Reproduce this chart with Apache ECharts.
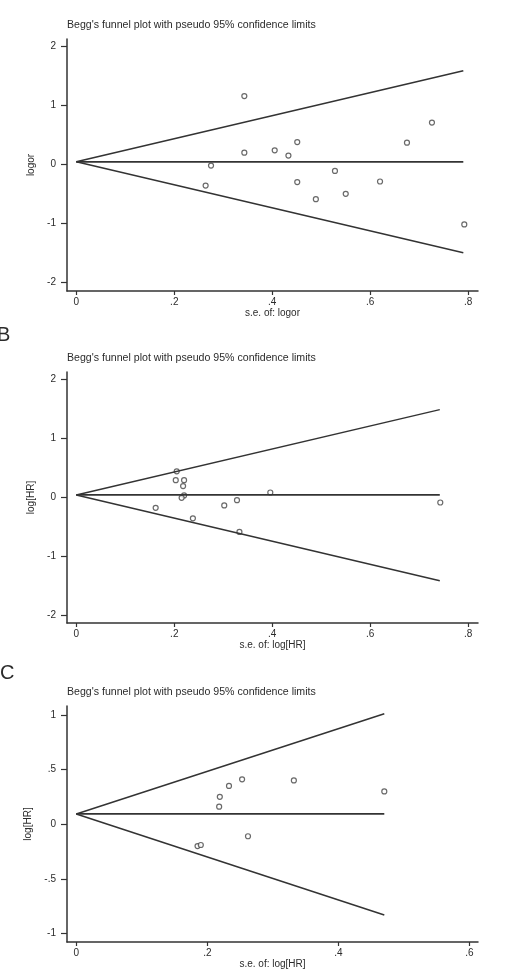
<!DOCTYPE html>
<html>
<head>
<meta charset="utf-8">
<script src="https://cdn.jsdelivr.net/npm/echarts@6/dist/echarts.min.js"></script>
<style>
html,body{margin:0;padding:0;background:#fff;}
#chart{width:505px;height:971px;}
</style>
</head>
<body>
<div id="chart"></div>
<script>
// ---- Panel A: logor vs s.e. of logor ----
const seA = [0.264, 0.275, 0.343, 0.343, 0.405, 0.433, 0.451, 0.451, 0.489, 0.528, 0.550, 0.620, 0.675, 0.726, 0.792];
const effA = [-0.36, -0.02, 1.16, 0.20, 0.24, 0.15, 0.38, -0.30, -0.59, -0.11, -0.50, -0.29, 0.37, 0.71, -1.02];
const funnelSeA = [0, 0.79];
const centerA = [0.044, 0.044];
const upperA = [0.044, 1.59];
const lowerA = [0.044, -1.50];
const xTicksA = [0, 0.2, 0.4, 0.6, 0.8];
const yTicksA = [-2, -1, 0, 1, 2];

// ---- Panel B: log[HR] vs s.e. of log[HR] ----
const seB = [0.162, 0.203, 0.205, 0.220, 0.218, 0.220, 0.215, 0.238, 0.302, 0.328, 0.333, 0.396, 0.743];
const effB = [-0.18, 0.29, 0.44, 0.29, 0.19, 0.03, -0.01, -0.36, -0.14, -0.05, -0.59, 0.08, -0.09];
const funnelSeB = [0, 0.742];
const centerB = [0.039, 0.039];
const upperB = [0.039, 1.49];
const lowerB = [0.039, -1.42];
const xTicksB = [0, 0.2, 0.4, 0.6, 0.8];
const yTicksB = [-2, -1, 0, 1, 2];

// ---- Panel C: log[HR] vs s.e. of log[HR] ----
const seC = [0.185, 0.190, 0.218, 0.219, 0.233, 0.253, 0.262, 0.332, 0.470];
const effC = [-0.20, -0.19, 0.16, 0.25, 0.35, 0.41, -0.11, 0.40, 0.30];
const funnelSeC = [0, 0.47];
const centerC = [0.094, 0.094];
const upperC = [0.094, 1.01];
const lowerC = [0.094, -0.83];
const xTicksC = [0, 0.2, 0.4, 0.6];
const yTicksC = [-1, -0.5, 0, 0.5, 1];

const titleText = "Begg's funnel plot with pseudo 95% confidence limits";
const panelLetters = ['B', 'C'];

const FONT = 'Liberation Sans, Arial, sans-serif';
const TXT = '#2b2b2b';
const LINE = '#333';

function fmt(v){
  let s = String(+(+v).toFixed(3));
  return s.replace(/^(-?)0\./, '$1.');
}

function pairs(xs, ys){ return xs.map((x,i)=>[x, ys[i]]); }

const grids = [
  {left: 67, top: 39, width: 411, height: 252},
  {left: 67, top: 372, width: 411, height: 251},
  {left: 67, top: 706, width: 411, height: 236}
];

function xAxis(idx, min, max, ticks, name){
  return {
    type: 'value', gridIndex: idx, min: min, max: max, position: 'bottom',
    name: name, nameLocation: 'middle', nameGap: 17,
    nameTextStyle: {fontFamily: FONT, fontSize: 10, color: TXT},
    axisLine: {show: true, onZero: false, lineStyle: {color: LINE, width: 1.5}},
    axisTick: {show: true, inside: false, length: 4, customValues: ticks, lineStyle: {color: LINE, width: 1.2}},
    axisLabel: {customValues: ticks, margin: 6, fontFamily: FONT, fontSize: 10, color: TXT, formatter: fmt},
    splitLine: {show: false}
  };
}
function yAxis(idx, min, max, ticks, name){
  return {
    type: 'value', gridIndex: idx, min: min, max: max,
    name: name, nameLocation: 'middle', nameGap: 31, nameRotate: 90,
    nameTextStyle: {fontFamily: FONT, fontSize: 10, color: TXT},
    axisLine: {show: true, onZero: false, lineStyle: {color: LINE, width: 1.5}},
    axisTick: {show: true, inside: false, length: 6, customValues: ticks, lineStyle: {color: LINE, width: 1.2}},
    axisLabel: {customValues: ticks, margin: 11, fontFamily: FONT, fontSize: 10, color: TXT, formatter: fmt},
    splitLine: {show: false}
  };
}

function lineSeries(idx, xs, ys, w){
  return {type: 'line', xAxisIndex: idx, yAxisIndex: idx, data: pairs(xs, ys),
    symbol: 'none', silent: true, animation: false,
    lineStyle: {color: LINE, width: w}};
}
function scatterSeries(idx, xs, ys){
  return {type: 'scatter', xAxisIndex: idx, yAxisIndex: idx, data: pairs(xs, ys),
    symbol: 'circle', symbolSize: 5, animation: false,
    itemStyle: {color: '#fff', borderColor: '#444', borderWidth: 1.2}};
}

const option = {
  backgroundColor: '#fff',
  animation: false,
  title: grids.map(g => ({
    text: titleText, left: 67, top: g.top - 19, padding: 0,
    textStyle: {fontFamily: FONT, fontSize: 10.6, fontWeight: 'normal', color: TXT}
  })),
  graphic: [
    {type: 'text', left: -3, top: 325, style: {text: panelLetters[0], font: '20px ' + FONT, fill: TXT}},
    {type: 'text', left: 0, top: 663, style: {text: panelLetters[1], font: '20px ' + FONT, fill: TXT}}
  ],
  grid: grids,
  xAxis: [
    xAxis(0, -0.019, 0.82, xTicksA, 's.e. of: logor'),
    xAxis(1, -0.019, 0.82, xTicksB, 's.e. of: log[HR]'),
    xAxis(2, -0.0142, 0.613, xTicksC, 's.e. of: log[HR]')
  ],
  yAxis: [
    yAxis(0, -2.15, 2.13, yTicksA, 'logor'),
    yAxis(1, -2.14, 2.13, yTicksB, 'log[HR]'),
    yAxis(2, -1.076, 1.08, yTicksC, 'log[HR]')
  ],
  series: [
    lineSeries(0, funnelSeA, centerA, 1.8),
    lineSeries(0, funnelSeA, upperA, 1.5),
    lineSeries(0, funnelSeA, lowerA, 1.5),
    scatterSeries(0, seA, effA),
    lineSeries(1, funnelSeB, centerB, 1.8),
    lineSeries(1, funnelSeB, upperB, 1.5),
    lineSeries(1, funnelSeB, lowerB, 1.5),
    scatterSeries(1, seB, effB),
    lineSeries(2, funnelSeC, centerC, 1.8),
    lineSeries(2, funnelSeC, upperC, 1.5),
    lineSeries(2, funnelSeC, lowerC, 1.5),
    scatterSeries(2, seC, effC)
  ]
};

const chart = echarts.init(document.getElementById('chart'), null, {renderer: 'canvas'});
chart.setOption(option);
</script>
</body>
</html>
